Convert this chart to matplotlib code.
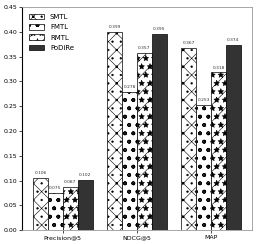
import numpy as np
import matplotlib
matplotlib.use("Agg")
import matplotlib.pyplot as plt

plt.rcParams['hatch.linewidth'] = 0.4

metrics = ["Precision@5", "NDCG@5", "MAP"]
methods = ["SMTL", "FMTL", "RMTL", "PoDiRe"]
smtl = [0.106, 0.399, 0.367]
fmtl = [0.075, 0.278, 0.253]
rmtl = [0.087, 0.357, 0.318]
podire = [0.102, 0.395, 0.374]

series = [smtl, fmtl, rmtl, podire]
hatches = ["xx..", "oo..", "//**", ""]
faces = ["white", "white", "white", "#333333"]

fig = plt.figure(figsize=(2.57, 2.44), dpi=100)
ax = fig.add_axes([0.086, 0.057, 0.894, 0.914])

x = np.arange(len(metrics))
w = 0.2
for i, vals in enumerate(series):
    pos = x + (i - 1.5) * w
    bars = ax.bar(pos, vals, w, color=faces[i], edgecolor="black",
                  linewidth=0.5, hatch=hatches[i], label=methods[i])
    for b, v in zip(bars, vals):
        ax.text(b.get_x() + b.get_width() / 2, v + 0.006, "%.3f" % v,
                ha="center", va="bottom", fontsize=3.2, color="#333333")

ax.set_xlim(-0.55, 2.55)
ax.set_ylim(0, 0.45)
ax.set_yticks(np.arange(0, 0.46, 0.05))
ax.set_yticklabels(["%.2f" % t for t in np.arange(0, 0.46, 0.05)])
ax.set_xticks(x)
ax.set_xticklabels(metrics)
ax.tick_params(axis="both", labelsize=4.5, length=2, width=0.5, pad=1.5)

for s in ["top", "right", "bottom"]:
    ax.spines[s].set_color("#999999")
    ax.spines[s].set_linewidth(0.6)
ax.spines["left"].set_linewidth(0.8)

ax.legend(loc="upper left", frameon=False, fontsize=5, handlelength=2.2,
          handleheight=0.8, labelspacing=0.6, borderaxespad=0.6)

fig.savefig("out.png", dpi=100)
